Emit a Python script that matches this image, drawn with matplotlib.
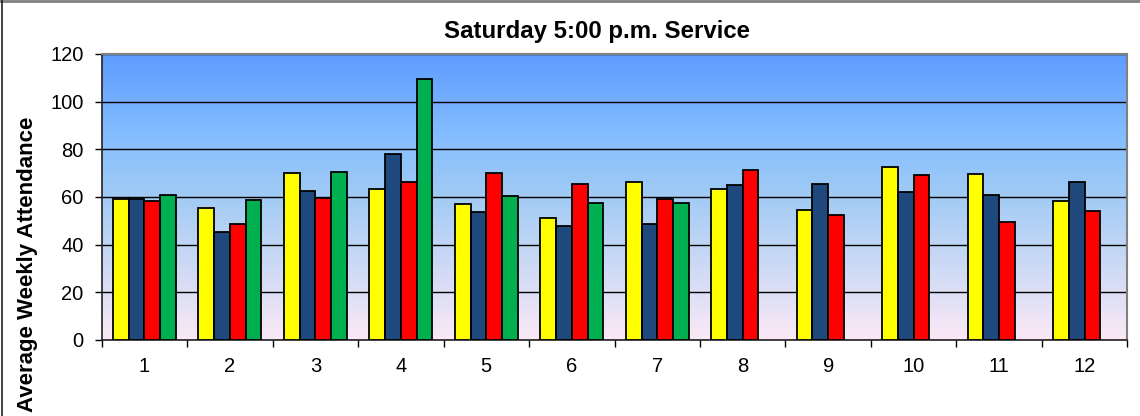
import numpy as np
import matplotlib.pyplot as plt
from matplotlib.colors import LinearSegmentedColormap
from matplotlib.lines import Line2D

# Weekly attendance
months = [1, 2, 3, 4, 5, 6, 7, 8, 9, 10, 11, 12]
year_a = [59.0, 55.2, 70.1, 63.5, 57.1, 51.2, 66.4, 63.4, 54.4, 72.6, 69.8, 58.3]
year_b = [59.3, 45.5, 62.7, 78.0, 53.8, 47.7, 48.8, 65.2, 65.3, 62.1, 60.7, 66.4]
year_c = [58.2, 48.8, 59.4, 66.3, 70.1, 65.6, 59.0, 71.3, 52.3, 69.1, 49.7, 54.1]
year_d = [61.0, 58.7, 70.3, 109.6, 60.6, 57.6, 57.6, np.nan, np.nan, np.nan, np.nan, np.nan]

series = [year_a, year_b, year_c, year_d]
colors = ['#FFFF00', '#1F497D', '#FF0000', '#00B050']

plt.rcParams['font.family'] = ['Liberation Sans', 'DejaVu Sans']

fig = plt.figure(figsize=(11.4, 4.16), dpi=100)
ax = fig.add_axes([0.0892, 0.1827, 0.8997, 0.6875])

# gradient background of the plot area
bg = LinearSegmentedColormap.from_list('bg', [
    (0.0, '#FBE9F6'), (0.5, '#A2CBF4'), (0.7, '#86BFFF'), (1.0, '#5E9CFF')])
grad = np.linspace(0, 1, 256).reshape(-1, 1)
ax.imshow(grad, cmap=bg, origin='lower', aspect='auto',
          extent=[0.5, 12.5, 0, 120], zorder=0)

x = np.arange(len(months)) + 1
w = 0.184
for i, (vals, c) in enumerate(zip(series, colors)):
    ax.bar(x + (i - 1.5) * w, vals, width=w, color=c, edgecolor='black',
           linewidth=1.3, zorder=3)

ax.set_xlim(0.5, 12.5)
ax.set_ylim(0, 120)
ax.set_yticks(range(0, 121, 20))
ax.set_xticks(x)
ax.set_xticklabels([str(m) for m in months])
ax.set_xticks(np.arange(0.5, 13, 1), minor=True)
ax.tick_params(axis='x', which='major', length=0, labelsize=14.5, pad=12)
ax.tick_params(axis='x', which='minor', length=5, width=1, direction='out')
ax.tick_params(axis='y', length=5, width=1, direction='out', labelsize=14.5, pad=8)

ax.yaxis.grid(True, color='black', linewidth=1, zorder=1)
ax.set_axisbelow(True)

for side in ['top', 'right']:
    ax.spines[side].set_color('#808080')
    ax.spines[side].set_linewidth(1.5)
for side in ['left', 'bottom']:
    ax.spines[side].set_color('#222222')
    ax.spines[side].set_linewidth(1.2)

fig.text(0.524, 0.925, 'Saturday 5:00 p.m. Service', ha='center', va='center',
         fontsize=17.3, fontweight='bold')
fig.text(0.024, 0.365, 'Average Weekly Attendance', ha='center', va='center',
         rotation=90, fontsize=16, fontweight='bold')

# outer chart border
fig.add_artist(Line2D([0, 1], [0.997, 0.997], transform=fig.transFigure,
                      color='#808080', linewidth=2))
fig.add_artist(Line2D([0.002, 0.002], [0, 1], transform=fig.transFigure,
                      color='#222222', linewidth=1.2))

fig.savefig('out.png', dpi=100)
